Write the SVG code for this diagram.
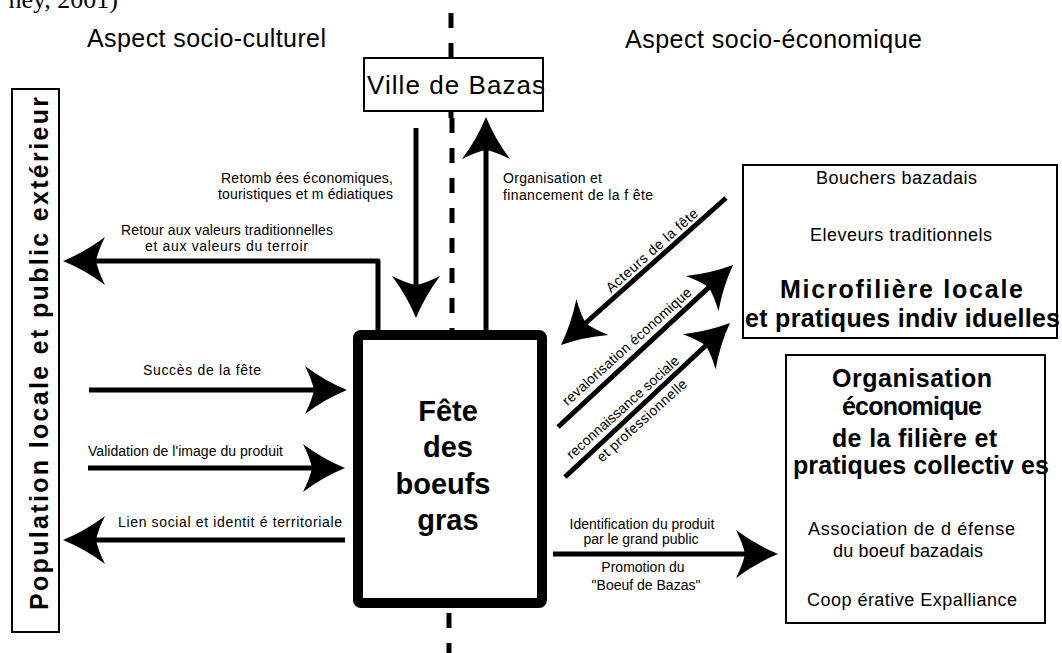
<svg xmlns="http://www.w3.org/2000/svg" width="1062" height="653" viewBox="0 0 1062 653">
<defs>
<style>
text{font-family:"Liberation Sans",Arial,sans-serif;fill:#000}
.s14{font-size:14px}
.s16{font-size:18px}
.b23{font-size:25px;font-weight:bold}
.b27{font-size:29px;font-weight:bold}
.box{fill:#fff;stroke:#000;stroke-width:2}
.arr{fill:none;stroke:#000;stroke-width:5;stroke-linejoin:round;marker-end:url(#ah)}
.dash{fill:none;stroke:#000;stroke-width:5;stroke-dasharray:15 15}
</style>
<marker id="ah" markerUnits="userSpaceOnUse" markerWidth="60" markerHeight="60" viewBox="-20 -30 60 60" refX="0" refY="0" orient="auto" overflow="visible">
<path d="M30,0 Q8,-9 -12,-24 Q-5,-10 -3,0 Q-5,10 -12,24 Q8,9 30,0 Z" fill="#000"/>
</marker>
</defs>
<rect width="1062" height="653" fill="#fff"/>
<text x="118" y="8" text-anchor="end" style="font-family:'Liberation Serif',serif;font-size:26px">ney, 2001)</text>
<text x="87" y="47" style="font-size:25px" textLength="239" lengthAdjust="spacing">Aspect socio-culturel</text>
<text x="625" y="48" style="font-size:25px" textLength="297" lengthAdjust="spacing">Aspect socio-économique</text>

<path class="dash" d="M451,13 V120"/>
<path class="dash" d="M452,118 V340"/>
<path class="dash" d="M449,613 V653"/>

<g id="connectors">
<path class="arr" d="M416,128 V288"/>
<path class="arr" d="M486,332 V147"/>
<path class="arr" d="M378,332 V261 H93"/>
<path class="arr" d="M89,390 H317"/>
<path class="arr" d="M88,468 H315"/>
<path class="arr" d="M345,540 H93"/>
<path class="arr" d="M726,198 L583.4,325"/>
<path class="arr" d="M558,427 L711,285.4"/>
<path class="arr" d="M565,477 L708,343.5"/>
<path class="arr" d="M553,554 H748"/>
<text class="s14" x="221" y="183" textLength="172" lengthAdjust="spacing">Retomb ées économiques,</text>
<text class="s14" x="218" y="199" textLength="175" lengthAdjust="spacing">touristiques et m édiatiques</text>
<text class="s14" x="503" y="183" textLength="99" lengthAdjust="spacing">Organisation et</text>
<text class="s14" x="503" y="200" textLength="150" lengthAdjust="spacing">financement de la f ête</text>
<text class="s14" x="121" y="235" textLength="212" lengthAdjust="spacing">Retour aux valeurs traditionnelles</text>
<text class="s14" x="145" y="251" textLength="163" lengthAdjust="spacing">et aux valeurs du terroir</text>
<text class="s14" x="143" y="375" textLength="118" lengthAdjust="spacing">Succès de la fête</text>
<text class="s14" x="88" y="456" textLength="195" lengthAdjust="spacing">Validation de l'image du produit</text>
<text class="s14" x="118" y="527" textLength="224" lengthAdjust="spacing">Lien social et identit é territoriale</text>
<text class="s14" transform="translate(655,254) rotate(-41.7)" text-anchor="middle" textLength="118" lengthAdjust="spacing">Acteurs de la fête</text>
<text class="s14" transform="translate(630,350) rotate(-42)" text-anchor="middle" textLength="168" lengthAdjust="spacing">revalorisation économique</text>
<text class="s14" transform="translate(626,411) rotate(-42)" text-anchor="middle" textLength="146" lengthAdjust="spacing">reconnaissance sociale</text>
<text class="s14" transform="translate(645,424) rotate(-42)" text-anchor="middle" textLength="116" lengthAdjust="spacing">et professionnelle</text>
<text class="s14" x="642" y="529" text-anchor="middle">Identification du produit</text>
<text class="s14" x="641" y="544" text-anchor="middle">par le grand public</text>
<text class="s14" x="643" y="572" text-anchor="middle">Promotion du</text>
<text class="s14" x="646" y="590" text-anchor="middle">"Boeuf de Bazas"</text>
</g>

<g id="ville">
<rect class="box" x="364" y="58" width="179" height="53"/>
<text x="367" y="94" style="font-size:26px" textLength="178" lengthAdjust="spacing">Ville de Bazas</text>
</g>

<g id="fete">
<rect x="358" y="335" width="184" height="268" rx="3" fill="#fff" stroke="#000" stroke-width="10" stroke-linejoin="round"/>
<text class="b27" x="448" y="421" text-anchor="middle">Fête</text>
<text class="b27" x="448" y="457" text-anchor="middle">des</text>
<text class="b27" x="443" y="494" text-anchor="middle" textLength="95" lengthAdjust="spacing">boeufs</text>
<text class="b27" x="448" y="530" text-anchor="middle">gras</text>
</g>

<g id="population">
<rect class="box" x="12" y="89" width="47" height="543"/>
<text class="b23" transform="translate(48,610) rotate(-90)" textLength="513" lengthAdjust="spacing">Population locale et public extérieur</text>
</g>

<g id="microfiliere">
<rect class="box" x="743" y="165" width="314" height="173"/>
<text class="s16" x="816" y="184" textLength="161" lengthAdjust="spacing">Bouchers bazadais</text>
<text class="s16" x="810" y="241" textLength="182" lengthAdjust="spacing">Eleveurs traditionnels</text>
<text class="b23" x="780" y="298" textLength="243" lengthAdjust="spacing">Microfilière locale</text>
<text class="b23" x="745" y="327" textLength="315" lengthAdjust="spacing">et pratiques indiv iduelles</text>
</g>

<g id="organisation">
<rect class="box" x="786" y="355" width="259" height="268"/>
<text class="b23" x="832" y="387" textLength="160" lengthAdjust="spacing">Organisation</text>
<text class="b23" x="842" y="415" textLength="140" lengthAdjust="spacing">économique</text>
<text class="b23" x="832" y="447" textLength="165" lengthAdjust="spacing">de la filière et</text>
<text class="b23" x="793" y="474" textLength="256" lengthAdjust="spacing">pratiques collectiv es</text>
<text class="s16" x="808" y="535" textLength="207" lengthAdjust="spacing">Association de d éfense</text>
<text class="s16" x="833" y="557" textLength="150" lengthAdjust="spacing">du boeuf bazadais</text>
<text class="s16" x="807" y="606" textLength="210" lengthAdjust="spacing">Coop érative Expalliance</text>
</g>
</svg>
